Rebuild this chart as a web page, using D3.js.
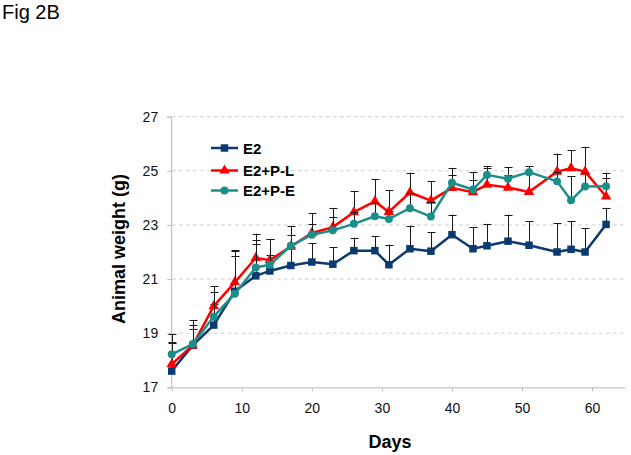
<!DOCTYPE html>
<html>
<head>
<meta charset="utf-8">
<script src="https://cdn.jsdelivr.net/npm/d3@7"></script>
<style>
  html, body { margin: 0; padding: 0; background: #fff; }
  svg { display: block; font-family: "Liberation Sans", Arial, sans-serif; }
</style>
</head>
<body>
<svg id="chart" width="631" height="455"></svg>
<script>
// ---- data ----
const days = [0, 3, 6, 9, 12, 14, 17, 20, 23, 26, 29, 31, 34, 37, 40, 43, 45, 48, 51, 55, 57, 59, 62];

const e2Values = [17.6, 18.55, 19.3, 20.55, 21.12, 21.3, 21.5, 21.63, 21.55, 22.05, 22.05, 21.53, 22.12, 22.03, 22.64, 22.12, 22.23, 22.4, 22.25, 22.0, 22.1, 22.0, 23.02];
const e2Errors = [1.05, 0.6, 0.77, 1.3, 1.18, 0.6, 0.7, 0.7, 0.62, 0.48, 0.53, 0.74, 0.85, 0.7, 0.74, 0.81, 0.81, 0.98, 0.88, 1.07, 1.03, 0.89, 0.61];

const plValues = [17.85, 18.55, 20.0, 20.88, 21.78, 21.7, 22.2, 22.7, 22.92, 23.47, 23.87, 23.48, 24.2, 23.9, 24.37, 24.21, 24.49, 24.38, 24.22, 24.97, 25.1, 24.97, 24.05];
const plErrors = [0.82, 0.76, 0.73, 1.2, 0.9, 0.78, 0.75, 0.74, 0.71, 0.79, 0.83, 0.8, 0.73, 0.72, 0.74, 0.74, 0.62, 0.45, 0.7, 0.67, 0.66, 0.92, 0.69];

const peValues = [18.22, 18.6, 19.61, 20.46, 21.43, 21.53, 22.23, 22.64, 22.8, 23.04, 23.32, 23.22, 23.62, 23.31, 24.56, 24.31, 24.85, 24.71, 24.95, 24.61, 23.91, 24.42, 24.43];
const peErrors = [0.75, 0.87, 0.93, 1.56, 1.03, 0.95, 0.41, 0.41, 0.5, 0.45, 0.5, 0.3, 0.55, 0.55, 0.27, 0.34, 0.32, 0.42, 0.22, 0.35, 0.89, 0.5, 0.5];

const seriesNames = ["E2", "E2+P-L", "E2+P-E"];
const seriesColors = ["#0b3a6f", "#ff0000", "#1a8f8a"];
const yTicks = [17, 19, 21, 23, 25, 27];
const xTicks = [0, 10, 20, 30, 40, 50, 60];

// ---- layout ----
const svg = d3.select("#chart");
const x = d3.scaleLinear().domain([0, 64.7]).range([171.7, 625]);
const y = d3.scaleLinear().domain([17, 27]).range([387.3, 116.7]);

svg.append("text").attr("x", 2).attr("y", 19)
  .attr("font-size", 20).attr("fill", "#000").text("Fig 2B");

// gridlines
svg.append("g").selectAll("line").data(yTicks.filter(d => d !== 17)).join("line")
  .attr("x1", x(0)).attr("x2", x.range()[1])
  .attr("y1", d => y(d)).attr("y2", d => y(d))
  .attr("stroke", "#cfcfcf").attr("stroke-dasharray", "4,3").attr("stroke-width", 1);

// y axis
const yAxis = svg.append("g").attr("transform", `translate(${x(0) - 0.5},0)`)
  .call(d3.axisLeft(y).tickValues(yTicks).tickSize(4).tickPadding(9).tickFormat(d3.format("d")));
yAxis.select(".domain").attr("stroke", "#b8b8b8");
yAxis.selectAll(".tick line").attr("stroke", "#b8b8b8");
yAxis.selectAll(".tick text").attr("font-size", 14).attr("fill", "#111")
  .attr("font-family", "Liberation Sans, Arial, sans-serif");

// x axis
const xAxis = svg.append("g").attr("transform", `translate(0,${y(17)})`)
  .call(d3.axisBottom(x).tickValues(xTicks).tickSize(4).tickSizeOuter(0).tickPadding(12));
xAxis.select(".domain").attr("stroke", "#b8b8b8");
xAxis.selectAll(".tick line").attr("stroke", "#b8b8b8");
xAxis.selectAll(".tick text").attr("font-size", 14).attr("fill", "#111")
  .attr("font-family", "Liberation Sans, Arial, sans-serif");

// axis titles
svg.append("text").attr("x", 390).attr("y", 448).attr("text-anchor", "middle")
  .attr("font-size", 18).attr("font-weight", "bold").text("Days");
svg.append("text").attr("transform", "translate(125,249) rotate(-90)")
  .attr("text-anchor", "middle").attr("font-size", 18).attr("font-weight", "bold")
  .text("Animal weight (g)");

// series
const series = [
  { name: seriesNames[0], color: seriesColors[0], values: e2Values, errors: e2Errors, shape: d3.symbolSquare, size: 56 },
  { name: seriesNames[1], color: seriesColors[1], values: plValues, errors: plErrors, shape: d3.symbolTriangle, size: 48 },
  { name: seriesNames[2], color: seriesColors[2], values: peValues, errors: peErrors, shape: d3.symbolCircle, size: 50 }
];

const line = d3.line().x(d => x(d.day)).y(d => y(d.v));

series.forEach(s => {
  const pts = days.map((d, i) => ({ day: d, v: s.values[i], e: s.errors[i] }));
  const g = svg.append("g");
  // error bars (upper only)
  const eb = g.append("g").attr("stroke", "#1a1a1a").attr("stroke-width", 1);
  eb.selectAll("line.v").data(pts).join("line").attr("class", "v")
    .attr("x1", d => Math.round(x(d.day)) + 0.5).attr("x2", d => Math.round(x(d.day)) + 0.5)
    .attr("y1", d => y(d.v)).attr("y2", d => y(d.v + d.e));
  eb.selectAll("line.c").data(pts).join("line").attr("class", "c")
    .attr("x1", d => Math.round(x(d.day)) - 3.5).attr("x2", d => Math.round(x(d.day)) + 4.5)
    .attr("y1", d => Math.round(y(d.v + d.e)) + 0.5).attr("y2", d => Math.round(y(d.v + d.e)) + 0.5);
  g.append("path").datum(pts).attr("d", line).attr("fill", "none")
    .attr("stroke", s.color).attr("stroke-width", 2.5).attr("stroke-linejoin", "round");
  g.selectAll("path.m").data(pts).join("path").attr("class", "m")
    .attr("transform", d => `translate(${x(d.day)},${y(d.v)})`)
    .attr("d", d3.symbol().type(s.shape).size(s.size)).attr("fill", s.color);
});

// legend
const legendY = [148, 170.5, 190.5];
const lg = svg.append("g");
series.forEach((s, i) => {
  lg.append("line").attr("x1", 211).attr("x2", 238).attr("y1", legendY[i]).attr("y2", legendY[i])
    .attr("stroke", s.color).attr("stroke-width", 2.5);
  lg.append("path").attr("transform", `translate(224.5,${legendY[i]})`)
    .attr("d", d3.symbol().type(s.shape).size(s.size)).attr("fill", s.color);
  lg.append("text").attr("x", 243).attr("y", legendY[i] + 5.5)
    .attr("font-size", 15).attr("font-weight", "bold").attr("fill", "#000").text(s.name);
});
</script>
</body>
</html>
